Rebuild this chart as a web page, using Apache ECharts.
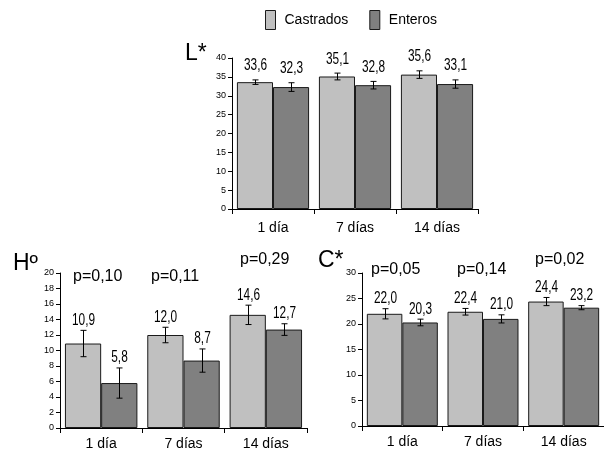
<!DOCTYPE html>
<html>
<head>
<meta charset="utf-8">
<script src="https://cdn.jsdelivr.net/npm/echarts@6.0.0/dist/echarts.min.js"></script>
<style>
	html, body { margin: 0; padding: 0; background: #fff; }
	#chart { width: 604px; height: 452px; }
</style>
</head>
<body>
<div id="chart"></div>
<script>
// datos
const categories = ['1 día', '7 días', '14 días'];

const lCastrados = [33.6, 35.1, 35.6];
const lEnteros = [32.3, 32.8, 33.1];
const lErrCastrados = [0.6, 0.9, 1.0];
const lErrEnteros = [1.15, 1.0, 1.1];

const hCastrados = [10.9, 12.0, 14.6];
const hEnteros = [5.8, 8.7, 12.7];
const hErrCastrados = [1.7, 1.0, 1.25];
const hErrEnteros = [1.95, 1.5, 0.75];

const cCastrados = [22.0, 22.4, 24.4];
const cEnteros = [20.3, 21.0, 23.2];
const cErrCastrados = [1.0, 0.65, 0.8];
const cErrEnteros = [0.65, 0.8, 0.4];

const hPValues = ['p=0,10', 'p=0,11', 'p=0,29'];
const cPValues = ['p=0,05', 'p=0,14', 'p=0,02'];

const SANS = '"Liberation Sans", Arial, sans-serif';
const LIGHT = '#c0c0c0';
const DARK = '#808080';

const fmt = v => v.toFixed(1).replace('.', ',');

// barras de error + etiqueta del valor
function errorSeries(means, errs, side, axisIdx, labelGap) {
	return {
		type: 'custom',
		name: 'err' + axisIdx + side,
		xAxisIndex: axisIdx,
		yAxisIndex: axisIdx,
		z: 10,
		silent: true,
		encode: { x: 0, y: 1 },
		data: means.map((m, i) => [i, m, errs[i]]),
		renderItem: function(params, api) {
			const i = api.value(0);
			const m = api.value(1);
			const e = api.value(2);
			const band = api.size([1, 0])[0];
			const hi = api.coord([i, m + e]);
			const lo = api.coord([i, m - e]);
			const x = Math.round(hi[0] + side * band * 0.22) + 0.5;
			const capStyle = { stroke: '#000', lineWidth: 1 };
			return {
				type: 'group',
				children: [
					{ type: 'line', shape: { x1: x, y1: hi[1], x2: x, y2: lo[1] }, style: capStyle },
					{ type: 'line', shape: { x1: x - 3, y1: hi[1], x2: x + 3, y2: hi[1] }, style: capStyle },
					{ type: 'line', shape: { x1: x - 3, y1: lo[1], x2: x + 3, y2: lo[1] }, style: capStyle },
					{
						type: 'text',
						x: x,
						y: hi[1] - labelGap,
						scaleX: 0.74,
						style: {
							text: fmt(m),
							x: 0,
							y: 0,
							font: '16px ' + SANS,
							fill: '#000',
							align: 'center',
							verticalAlign: 'bottom',
							textAlign: 'center',
							textVerticalAlign: 'bottom'
						}
					}
				]
			};
		}
	};
}

function barSeries(name, values, color, axisIdx) {
	return {
		type: 'bar',
		name: name,
		xAxisIndex: axisIdx,
		yAxisIndex: axisIdx,
		data: values,
		barGap: '0%',
		barCategoryGap: '12%',
		itemStyle: { color: color, borderColor: '#1a1a1a', borderWidth: 1 }
	};
}

function xAxis(gridIndex, margin) {
	return {
		type: 'category',
		gridIndex: gridIndex,
		data: categories,
		axisLine: { lineStyle: { color: '#000', width: 1 } },
		axisTick: { show: true, length: 5, lineStyle: { color: '#000' } },
		axisLabel: { color: '#000', fontSize: 14, fontFamily: SANS, margin: margin }
	};
}

function yAxis(gridIndex, max, interval) {
	return {
		type: 'value',
		gridIndex: gridIndex,
		min: 0,
		max: max,
		interval: interval,
		splitLine: { show: false },
		axisLine: { show: true, lineStyle: { color: '#000', width: 1 } },
		axisTick: { show: true, length: 4, lineStyle: { color: '#000' } },
		axisLabel: { color: '#000', fontSize: 9, fontFamily: SANS, margin: 6 }
	};
}

function titleText(text, left, top) {
	return { type: 'text', left: left, top: top, style: { text: text, font: '23px ' + SANS, fill: '#000' } };
}

// posiciones de los p-valores (px)
const hPPos = [[73, 269], [151, 269], [240, 252]];
const cPPos = [[371, 262], [457, 262], [535, 252]];

const graphics = [
	titleText('L*', 185, 42),
	titleText('Hº', 13, 252),
	titleText('C*', 318, 249)
];
hPValues.forEach((p, i) => {
	graphics.push({ type: 'text', left: hPPos[i][0], top: hPPos[i][1], style: { text: p, font: '16px ' + SANS, fill: '#000' } });
});
cPValues.forEach((p, i) => {
	graphics.push({ type: 'text', left: cPPos[i][0], top: cPPos[i][1], style: { text: p, font: '16px ' + SANS, fill: '#000' } });
});

const option = {
	animation: false,
	backgroundColor: '#fff',
	legend: {
		data: ['Castrados', 'Enteros'],
		left: 260,
		top: 5,
		itemWidth: 10,
		itemHeight: 19,
		itemGap: 21,
		icon: 'rect',
		selectedMode: false,
		itemStyle: { borderColor: '#1a1a1a', borderWidth: 1 },
		textStyle: { color: '#000', fontSize: 14, fontFamily: SANS, padding: [0, 0, 0, 4] }
	},
	grid: [
		{ left: 232, top: 58, width: 246, height: 151 },
		{ left: 60, top: 273, width: 247, height: 155 },
		{ left: 362, top: 273, width: 242, height: 153 }
	],
	xAxis: [xAxis(0, 12), xAxis(1, 9), xAxis(2, 9)],
	yAxis: [yAxis(0, 40, 5), yAxis(1, 20, 2), yAxis(2, 30, 5)],
	graphic: graphics,
	series: [
		barSeries('Castrados', lCastrados, LIGHT, 0),
		barSeries('Enteros', lEnteros, DARK, 0),
		errorSeries(lCastrados, lErrCastrados, -1, 0, 6),
		errorSeries(lEnteros, lErrEnteros, 1, 0, 6),
		barSeries('Castrados', hCastrados, LIGHT, 1),
		barSeries('Enteros', hEnteros, DARK, 1),
		errorSeries(hCastrados, hErrCastrados, -1, 1, 2),
		errorSeries(hEnteros, hErrEnteros, 1, 1, 2),
		barSeries('Castrados', cCastrados, LIGHT, 2),
		barSeries('Enteros', cEnteros, DARK, 2),
		errorSeries(cCastrados, cErrCastrados, -1, 2, 2),
		errorSeries(cEnteros, cErrEnteros, 1, 2, 2)
	]
};

const chart = echarts.init(document.getElementById('chart'), null, { renderer: 'canvas' });
chart.setOption(option);
</script>
</body>
</html>
